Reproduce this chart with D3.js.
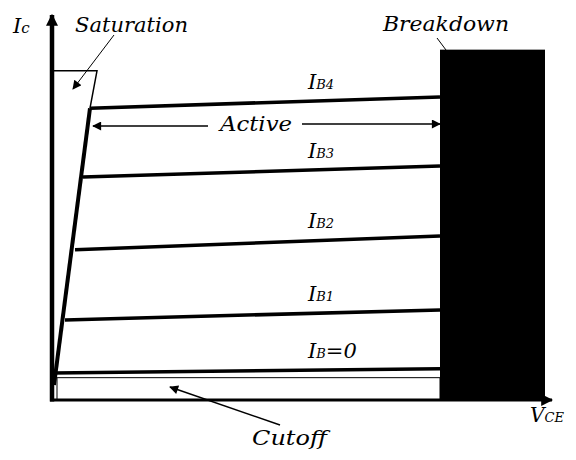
<!DOCTYPE html>
<html>
<head>
<meta charset="utf-8">
<script src="https://cdn.jsdelivr.net/npm/d3@7"></script>
<style>
  body { margin: 0; background: #fff; }
</style>
</head>
<body>
<script>
// transistor output characteristic (Ic vs Vce), values in arbitrary units
var curveLabels = ["B4", "B3", "B2", "B1", "B"];
var curveSuffix = ["", "", "", "", "=0"];
var curveStartV = [0.76, 0.62, 0.46, 0.26, 0.02];
var curveStartI = [7.58, 5.79, 3.90, 2.08, 0.70];
var curveEndI   = [7.87, 6.08, 4.26, 2.34, 0.81];
var breakdownV = [7.76, 9.86];
var breakdownI = 9.1;
var satLineV = [0.04, 0.76];
var satLineI = [0.39, 7.58];
var satBoxV = 0.9;
var satBoxI = 8.55;
var cutoffI = 0.58;
var labelV = 5.12;

var width = 576, height = 460;
var margin = {top: 15, right: 22, bottom: 60, left: 52};

var svg = d3.select("body").append("svg")
    .attr("width", width)
    .attr("height", height)
    .style("font-family", "DejaVu Serif")
    .attr("font-style", "italic");

var x = d3.scaleLinear().domain([0, 10]).range([margin.left, width - margin.right - 2]);
var y = d3.scaleLinear().domain([0, 10]).range([height - margin.bottom, margin.top]);

// arrow markers
var defs = svg.append("defs");
function marker(id, w, h) {
  defs.append("marker")
      .attr("id", id)
      .attr("viewBox", "0 0 10 10")
      .attr("refX", 9).attr("refY", 5)
      .attr("markerWidth", w).attr("markerHeight", h)
      .attr("markerUnits", "userSpaceOnUse")
      .attr("orient", "auto-start-reverse")
    .append("path")
      .attr("d", "M0,0L10,5L0,10z")
      .attr("fill", "#000");
}
marker("head", 12, 9);
marker("axhead", 12, 12);

// breakdown region
svg.append("rect")
    .attr("x", x(breakdownV[0]))
    .attr("y", y(breakdownI))
    .attr("width", x(breakdownV[1]) - x(breakdownV[0]))
    .attr("height", y(0) - y(breakdownI))
    .attr("fill", "#000");

// cutoff region outline
svg.append("rect")
    .attr("x", x(0.1))
    .attr("y", y(cutoffI))
    .attr("width", x(breakdownV[0]) - x(0.1))
    .attr("height", y(0) - y(cutoffI))
    .attr("fill", "none")
    .attr("stroke", "#000")
    .attr("stroke-width", 1);

// saturation box
svg.append("path")
    .attr("d", d3.line()([[x(0), y(satBoxI)], [x(satBoxV), y(satBoxI)], [x(satLineV[1]), y(satLineI[1])]]))
    .attr("fill", "none")
    .attr("stroke", "#000")
    .attr("stroke-width", 1.5);

// saturation line
svg.append("line")
    .attr("x1", x(satLineV[0])).attr("y1", y(satLineI[0]))
    .attr("x2", x(satLineV[1])).attr("y2", y(satLineI[1]))
    .attr("stroke", "#000")
    .attr("stroke-width", 4);

// Ib curves
var curves = curveLabels.map(function(l, i) {
  return {label: l, suffix: curveSuffix[i], v0: curveStartV[i], i0: curveStartI[i], i1: curveEndI[i]};
});

svg.selectAll(".curve")
    .data(curves)
  .enter().append("line")
    .attr("class", "curve")
    .attr("x1", function(d) { return x(d.v0); })
    .attr("y1", function(d) { return y(d.i0); })
    .attr("x2", x(breakdownV[0]))
    .attr("y2", function(d) { return y(d.i1); })
    .attr("stroke", "#000")
    .attr("stroke-width", 3.5);

function iAt(d, v) {
  return d.i0 + (d.i1 - d.i0) * (v - d.v0) / (breakdownV[0] - d.v0);
}

var lab = svg.selectAll(".clab")
    .data(curves)
  .enter().append("text")
    .attr("class", "clab")
    .attr("x", x(labelV))
    .attr("y", function(d) { return y(iAt(d, labelV + 0.3)) - 12; })
    .style("font-size", "21px");
lab.append("tspan").text("I");
lab.append("tspan").style("font-size", "13px").text(function(d) { return d.label; });
lab.append("tspan").text(function(d) { return d.suffix; });

// axes
svg.append("line")
    .attr("x1", x(0)).attr("y1", y(0) + 1.5)
    .attr("x2", x(0)).attr("y2", y(10))
    .attr("stroke", "#000").attr("stroke-width", 4.5)
    .attr("marker-end", "url(#axhead)");
svg.append("line")
    .attr("x1", x(0) - 2).attr("y1", y(0))
    .attr("x2", x(10)).attr("y2", y(0))
    .attr("stroke", "#000").attr("stroke-width", 3)
    .attr("marker-end", "url(#axhead)");

// axis labels
var ic = svg.append("text").attr("x", 13).attr("y", 33).style("font-size", "21px");
ic.append("tspan").text("I");
ic.append("tspan").style("font-size", "15px").text("c");

var vce = svg.append("text").attr("x", 530).attr("y", 422).style("font-size", "20px");
vce.append("tspan").text("V");
vce.append("tspan").style("font-size", "13px").text("CE");

// region labels
function label(t, px, py, len) {
  svg.append("text").attr("x", px).attr("y", py)
      .attr("textLength", len).attr("lengthAdjust", "spacingAndGlyphs")
      .style("font-size", "21px").text(t);
}
label("Saturation", 75, 32, 113);
label("Breakdown", 383, 31, 126);
label("Cutoff", 252, 445, 75);
label("Active", 220, 131, 72);

// annotation arrows
svg.append("line")
    .attr("x1", 114).attr("y1", 35).attr("x2", 73).attr("y2", 89)
    .attr("stroke", "#000").attr("stroke-width", 1)
    .attr("marker-end", "url(#head)");
svg.append("line")
    .attr("x1", 437).attr("y1", 38).attr("x2", 446).attr("y2", 50)
    .attr("stroke", "#000").attr("stroke-width", 1);
svg.append("line")
    .attr("x1", 280).attr("y1", 425).attr("x2", 170).attr("y2", 387)
    .attr("stroke", "#000").attr("stroke-width", 1.5)
    .attr("marker-end", "url(#head)");
svg.append("line")
    .attr("x1", 208).attr("y1", 126).attr("x2", x(satLineV[1]) + 3).attr("y2", 126)
    .attr("stroke", "#000").attr("stroke-width", 1.5)
    .attr("marker-end", "url(#head)");
svg.append("line")
    .attr("x1", 302).attr("y1", 124).attr("x2", x(breakdownV[0])).attr("y2", 124)
    .attr("stroke", "#000").attr("stroke-width", 1.5)
    .attr("marker-end", "url(#head)");
</script>
</body>
</html>
